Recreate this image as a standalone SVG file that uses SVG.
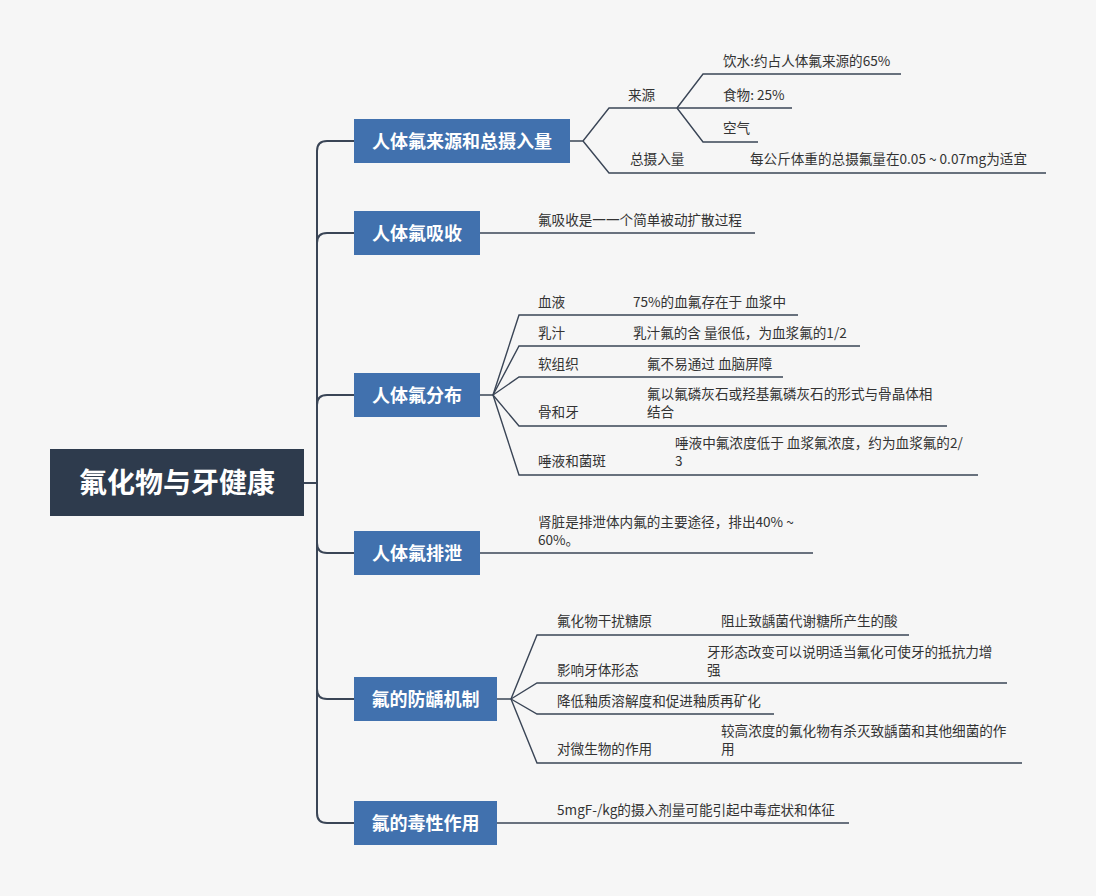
<svg xmlns="http://www.w3.org/2000/svg" width="1096" height="896" viewBox="0 0 1096 896">
<style>
.bg{fill:#f6f6f6}
.root{fill:#2e3b4d}
.main{fill:#4171ae}
.rt{font-family:"Noto Sans CJK SC","Liberation Sans",sans-serif;font-size:28px;font-weight:bold;fill:#ffffff;text-anchor:middle}
.mt{font-family:"Noto Sans CJK SC","Liberation Sans",sans-serif;font-size:18px;font-weight:bold;fill:#ffffff;text-anchor:middle}
.t{font-family:"Noto Sans CJK SC","Liberation Sans",sans-serif;font-size:13.6px;fill:#333333}
.ln{fill:none;stroke:#3a4556;stroke-width:1.4}
.tr{fill:none;stroke:#3a4556;stroke-width:2}
</style>
<rect class="bg" x="0" y="0" width="1096" height="896"/>
<g id="connectors">
<path class="tr" d="M304,483 H317 V151 Q317,141 327,141 H354"/>
<path class="tr" d="M317,483 V243 Q317,233 327,233 H354"/>
<path class="tr" d="M317,483 V405 Q317,395 327,395 H354"/>
<path class="tr" d="M317,483 V543 Q317,553 327,553 H354"/>
<path class="tr" d="M317,483 V689 Q317,699 327,699 H354"/>
<path class="tr" d="M317,483 V813 Q317,823 327,823 H354"/>
<path class="ln" d="M570,141 H583 L609,108 H677"/>
<path class="ln" d="M583,141 L609,173 H1046"/>
<path class="ln" d="M677,108 L703,74 H901"/>
<path class="ln" d="M677,108 H792"/>
<path class="ln" d="M677,108 L703,142 H758"/>
<path class="ln" d="M480,233 H755"/>
<path class="ln" d="M480,395 H493 L519,315 H798"/>
<path class="ln" d="M493,395 L519,346 H860"/>
<path class="ln" d="M493,395 L519,377 H783"/>
<path class="ln" d="M493,395 L519,426 H947"/>
<path class="ln" d="M493,395 L519,475 H978"/>
<path class="ln" d="M480,553 H813"/>
<path class="ln" d="M497,699 H511 L537,635 H909"/>
<path class="ln" d="M511,699 L537,683 H1007"/>
<path class="ln" d="M511,699 L537,714 H774"/>
<path class="ln" d="M511,699 L537,763 H1022"/>
<path class="ln" d="M497,823 H849"/>
</g>
<g id="root">
<rect class="root" x="50" y="449" width="254" height="67"/>
<text class="rt" x="177" y="493">氟化物与牙健康</text>
</g>
<g id="n1">
<rect class="main" x="354" y="119" width="216" height="44"/>
<text class="mt" x="462" y="147.5">人体氟来源和总摄入量</text>
</g>
<g id="n2">
<rect class="main" x="354" y="211" width="126" height="44"/>
<text class="mt" x="417" y="239.5">人体氟吸收</text>
</g>
<g id="n3">
<rect class="main" x="354" y="373" width="126" height="44"/>
<text class="mt" x="417" y="401.5">人体氟分布</text>
</g>
<g id="n4">
<rect class="main" x="354" y="531" width="126" height="44"/>
<text class="mt" x="417" y="559.5">人体氟排泄</text>
</g>
<g id="n5">
<rect class="main" x="354" y="677" width="143" height="44"/>
<text class="mt" x="425.5" y="705.5">氟的防龋机制</text>
</g>
<g id="n6">
<rect class="main" x="354" y="801" width="143" height="44"/>
<text class="mt" x="425.5" y="829.5">氟的毒性作用</text>
</g>
<g id="n1-children">
<text class="t" x="628" y="100">来源</text>
<text class="t" x="723" y="66">饮水:约占人体氟来源的65%</text>
<text class="t" x="723" y="100">食物: 25%</text>
<text class="t" x="723" y="133">空气</text>
<text class="t" x="630" y="164">总摄入量</text>
<text class="t" x="750" y="164">每公斤体重的总摄氟量在0.05 ~ 0.07mg为适宜</text>
</g>
<g id="n2-children">
<text class="t" x="538" y="225">氟吸收是一一个简单被动扩散过程</text>
</g>
<g id="n3-children">
<text class="t" x="538" y="307">血液</text>
<text class="t" x="633" y="307">75%的血氟存在于 血浆中</text>
<text class="t" x="538" y="338">乳汁</text>
<text class="t" x="633" y="338">乳汁氟的含 量很低，为血浆氟的1/2</text>
<text class="t" x="538" y="369">软组织</text>
<text class="t" x="647" y="369">氟不易通过 血脑屏障</text>
<text class="t" x="538" y="417">骨和牙</text>
<text class="t" x="647" y="399">氟以氟磷灰石或羟基氟磷灰石的形式与骨晶体相</text>
<text class="t" x="647" y="417">结合</text>
<text class="t" x="538" y="466">唾液和菌斑</text>
<text class="t" x="675" y="448">唾液中氟浓度低于 血浆氟浓度，约为血浆氟的2/</text>
<text class="t" x="675" y="466">3</text>
</g>
<g id="n4-children">
<text class="t" x="538" y="527">肾脏是排泄体内氟的主要途径，排出40% ~</text>
<text class="t" x="538" y="545">60%。</text>
</g>
<g id="n5-children">
<text class="t" x="557" y="626">氟化物干扰糖原</text>
<text class="t" x="721" y="626">阻止致龋菌代谢糖所产生的酸</text>
<text class="t" x="557" y="675">影响牙体形态</text>
<text class="t" x="707" y="657">牙形态改变可以说明适当氟化可使牙的抵抗力增</text>
<text class="t" x="707" y="675">强</text>
<text class="t" x="557" y="706">降低釉质溶解度和促进釉质再矿化</text>
<text class="t" x="557" y="754">对微生物的作用</text>
<text class="t" x="721" y="736">较高浓度的氟化物有杀灭致龋菌和其他细菌的作</text>
<text class="t" x="721" y="754">用</text>
</g>
<g id="n6-children">
<text class="t" x="557" y="815">5mgF-/kg的摄入剂量可能引起中毒症状和体征</text>
</g>
</svg>
